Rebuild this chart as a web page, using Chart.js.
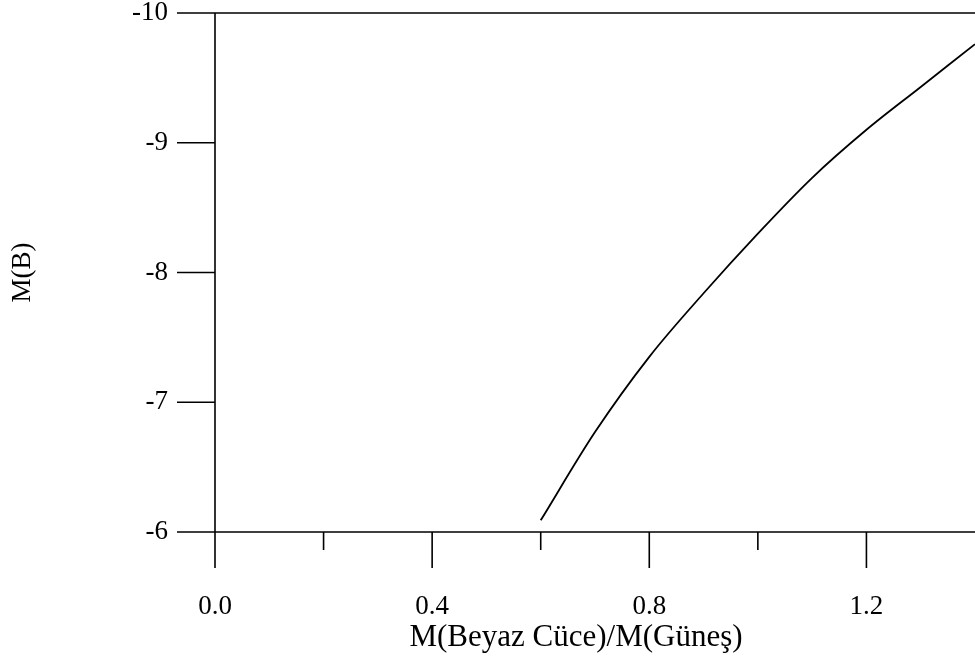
<!DOCTYPE html>
<html>
<head>
<meta charset="utf-8">
<script src="https://cdn.jsdelivr.net/npm/chart.js@4/dist/chart.umd.min.js"></script>
<style>
  html, body { margin: 0; background: #fff; }
  #wrap { width: 975px; height: 657px; }
</style>
</head>
<body>
<div id="wrap"><canvas id="chart"></canvas></div>
<script>
// data
const massRatio = [0.6, 0.7, 0.8, 0.9, 1.0, 1.1, 1.2, 1.3, 1.4];
const magB = [-6.09, -6.77, -7.35, -7.84, -8.30, -8.73, -9.10, -9.43, -9.76];

// ticks
const xMajor = [0.0, 0.4, 0.8, 1.2];
const xMinor = [0.2, 0.6, 1.0];
const yTicks = [-10, -9, -8, -7, -6];

const fontFamily = '"Liberation Serif", "DejaVu Serif", serif';
const tickFont = { family: fontFamily, size: 27 };

// draws the axis frame and tick marks
const axisLines = {
  id: 'axisLines',
  beforeDatasetsDraw(chart) {
    const { ctx, scales: { x, y } } = chart;
    const x0 = x.getPixelForValue(0);
    const yTop = y.getPixelForValue(-10);
    const yBot = y.getPixelForValue(-6);
    ctx.save();
    ctx.strokeStyle = '#000';
    ctx.lineWidth = 1.6;
    ctx.beginPath();
    ctx.moveTo(x.left, yTop); ctx.lineTo(x.right, yTop);
    ctx.moveTo(x.left, yBot); ctx.lineTo(x.right, yBot);
    ctx.moveTo(x0, yTop); ctx.lineTo(x0, yBot + 36);
    yTicks.forEach(v => {
      const p = y.getPixelForValue(v);
      ctx.moveTo(x.left, p); ctx.lineTo(x0, p);
    });
    xMajor.forEach(v => {
      const p = x.getPixelForValue(v);
      ctx.moveTo(p, yBot); ctx.lineTo(p, yBot + 36);
    });
    xMinor.forEach(v => {
      const p = x.getPixelForValue(v);
      ctx.moveTo(p, yBot); ctx.lineTo(p, yBot + 18);
    });
    ctx.stroke();
    ctx.restore();
  }
};

const ctx = document.getElementById('chart').getContext('2d');
const myChart = new Chart(ctx, {
  type: 'line',
  data: {
    datasets: [{
      data: massRatio.map((m, i) => ({ x: m, y: magB[i] })),
      borderColor: '#000',
      borderWidth: 1.8,
      pointRadius: 0,
      fill: false,
      clip: false,
      cubicInterpolationMode: 'monotone'
    }]
  },
  options: {
    responsive: true,
    maintainAspectRatio: false,
    animation: false,
    layout: { padding: { top: 13, right: 0, left: 0, bottom: 0 } },
    plugins: { legend: { display: false }, tooltip: { enabled: false } },
    scales: {
      x: {
        type: 'linear',
        min: -0.07,
        max: 1.4,
        grid: { display: false, drawTicks: false },
        border: { display: false },
        afterBuildTicks: s => { s.ticks = xMajor.map(v => ({ value: v })); },
        afterFit: s => { s.height = 125; s.paddingLeft = 0; s.paddingRight = 0; },
        ticks: {
          callback: v => v.toFixed(1),
          font: tickFont,
          color: '#000',
          padding: 59,
          maxRotation: 0,
          autoSkip: false
        },
        title: {
          display: true,
          text: 'M(Beyaz Cüce)/M(Güneş)',
          font: { family: fontFamily, size: 31 },
          color: '#000',
          padding: { top: 0, bottom: 1 }
        }
      },
      y: {
        type: 'linear',
        min: -10,
        max: -6,
        reverse: true,
        grid: { display: false, drawTicks: false },
        border: { display: false },
        afterBuildTicks: s => { s.ticks = yTicks.map(v => ({ value: v })); },
        afterFit: s => { s.width = 177; s.paddingTop = 0; s.paddingBottom = 0; },
        ticks: {
          font: tickFont,
          color: '#000',
          padding: 9
        },
        title: {
          display: true,
          text: 'M(B)',
          font: { family: fontFamily, size: 27 },
          color: '#000',
          padding: { top: 7, bottom: 0 }
        }
      }
    }
  },
  plugins: [axisLines]
});
</script>
</body>
</html>
